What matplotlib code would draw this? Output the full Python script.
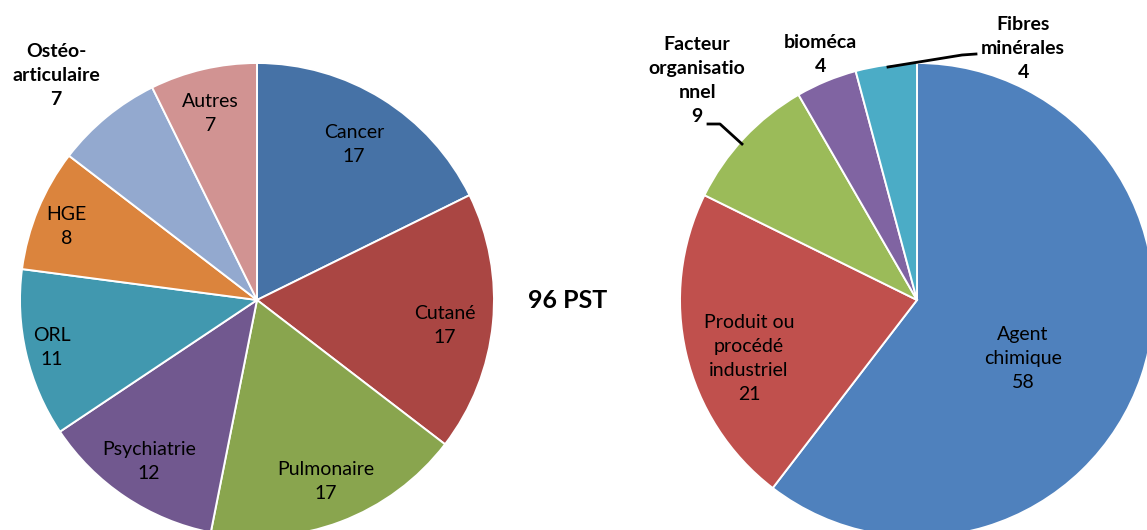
import numpy as np
import matplotlib.pyplot as plt

# pathologies (left pie)
patho_labels = ["Cancer", "Cutané", "Pulmonaire", "Psychiatrie", "ORL", "HGE",
                "Ostéo-\narticulaire", "Autres"]
patho_values = [17, 17, 17, 12, 11, 8, 7, 7]
patho_colors = ["#4672A6", "#AA4643", "#89A54E", "#71588F", "#4198AF", "#DB843D",
                "#93A9CF", "#D19392"]

# nuisances (right pie)
nuis_labels = ["Agent\nchimique", "Produit ou\nprocédé\nindustriel",
               "Facteur\norganisatio\nnnel", "bioméca", "Fibres\nminérales"]
nuis_values = [58, 21, 9, 4, 4]
nuis_colors = ["#4F81BD", "#C0504D", "#9BBB59", "#8064A2", "#4BACC6"]

total_label = "96 PST"

W, H = 1147, 530
R = 237

# label placement: (radius fraction, angle shift in degrees, bold)
patho_place = [(0.775, 0, False), (0.80, -2, False), (0.82, 0, False), (0.82, 0, False),
               (0.89, 0, False), (0.86, 1.5, False), (1.27, 2.5, True), (0.81, 1, False)]
nuis_place = [(0.51, -10, False), (0.75, 6, False), (1.31, -1.8, True),
              (1.115, -1, True), (1.15, -30.4, True)]

plt.rcParams['font.family'] = ['Lato', 'DejaVu Sans']

fig = plt.figure(figsize=(W / 100, H / 100), dpi=100)
ax = fig.add_axes([0, 0, 1, 1])


def draw_pie(values, labels, colors, place, cx, cy):
    wedges, _ = ax.pie(values, colors=colors, startangle=90, counterclock=False,
                       radius=R, center=(cx, H - cy),
                       wedgeprops=dict(edgecolor="white", linewidth=1.4))
    for w, lab, val, (rf, dt, bold) in zip(wedges, labels, values, place):
        mid = np.deg2rad((w.theta1 + w.theta2) / 2 + dt)
        x = cx + rf * R * np.cos(mid)
        y = H - cy + rf * R * np.sin(mid)
        ax.text(x, y, f"{lab}\n{val}", ha="center", va="center", fontsize=14,
                fontweight="bold" if bold else "normal", linespacing=1.5,
                color="black")
    return wedges


draw_pie(patho_values, patho_labels, patho_colors, patho_place, 257, 300)
draw_pie(nuis_values, nuis_labels, nuis_colors, nuis_place, 917, 300)

# leader lines for the small slices
ax.plot([742, 720, 708], [H - 144, H - 124, H - 124], color="black", lw=2)
ax.plot([888, 962, 976], [H - 67, H - 55, H - 54], color="black", lw=2)

ax.text(568, H - 301, total_label, ha="center", va="center", fontsize=18,
        fontweight="bold")

ax.set_xlim(0, W)
ax.set_ylim(0, H)
ax.set_aspect("equal")
ax.axis("off")

fig.savefig("out.png", dpi=100, facecolor="white")
